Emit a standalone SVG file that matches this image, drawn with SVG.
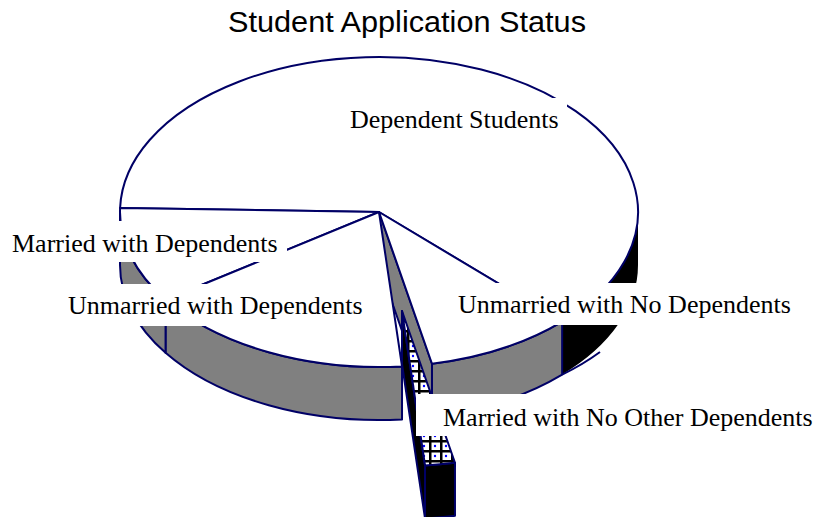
<svg xmlns="http://www.w3.org/2000/svg" width="819" height="517" viewBox="0 0 819 517">
<style>
.edge{stroke:#000066;stroke-width:2;stroke-linejoin:round}
.top{fill:#ffffff}
.gray{fill:#808080}
.blk{fill:#000000}
.lblbox{fill:#ffffff;stroke:none}
.lbl{font-family:"Liberation Serif","Times New Roman",serif;font-size:26px;fill:#000000}
.title{font-family:"Liberation Sans",Arial,sans-serif;font-size:29px;fill:#000000}
</style>
<defs>
<pattern id="chk" width="11" height="10" patternUnits="userSpaceOnUse">
<rect width="11" height="10" fill="#ffffff"/>
<rect x="0" y="0" width="11" height="2.5" fill="#000000"/>
<rect x="0" y="0" width="2.5" height="10" fill="#000000"/>
<circle cx="6" cy="6" r="1.2" fill="#0000ff"/>
</pattern>
</defs>
<rect width="819" height="517" fill="#ffffff"/>
<g id="connectors">
<!-- outer side walls -->
<path class="blk" d="M638,212 A259,155 0 0 1 562.14,321.6 L562.14,374.6 A259,155 0 0 0 638,265 Z"/>
<path class="gray edge" d="M562.14,321.6 A259,155 0 0 1 431.97,363.72 L431.97,416.72 A259,155 0 0 0 562.14,374.6 Z"/>
<path class="gray edge" d="M402.02,366.39 A259,155 0 0 1 165.55,299.79 L165.55,352.79 A259,155 0 0 0 402.02,419.39 Z"/>
<path class="gray edge" d="M165.55,299.79 A259,155 0 0 1 120,212 L120,265 A259,155 0 0 0 165.55,352.79 Z"/>
<path fill="none" class="edge" d="M562.14,374.6 A259,155 0 0 0 600,352"/>
<!-- wall visible in the gap -->
<path class="gray edge" d="M379,212 L431.97,363.72 L431.97,416.72 L379,265 Z"/>
</g>
<g id="node-dependent-students">
<path class="top edge" d="M379,212 L120.09,207.94 A259,155 0 1 1 562.14,321.6 Z"/>
</g>
<g id="node-married-with-dependents">
<path class="top edge" d="M379,212 L165.55,299.79 A259,155 0 0 1 120.09,207.94 Z"/>
</g>
<g id="node-unmarried-with-dependents">
<path class="top edge" d="M379,212 L402.02,366.39 A259,155 0 0 1 165.55,299.79 Z"/>
</g>
<g id="node-unmarried-with-no-dependents">
<path class="top edge" d="M379,212 L562.14,321.6 A259,155 0 0 1 431.97,363.72 Z"/>
</g>
<g id="node-married-with-no-other-dependents">
<path class="blk edge" d="M402,311 L425.02,465.39 L425.02,518.39 L402,364 Z"/>
<path class="blk edge" d="M454.97,462.72 A259,155 0 0 1 425.02,465.39 L425.02,518.39 A259,155 0 0 0 454.97,515.72 Z"/>
<path class="edge" fill="url(#chk)" d="M402,311 L454.97,462.72 A259,155 0 0 1 425.02,465.39 Z"/>
</g>
<g id="labels">
<rect class="lblbox" x="343" y="98" width="224" height="41"/>
<text class="lbl" x="350" y="128">Dependent Students</text>
<rect class="lblbox" x="4" y="221" width="283" height="41"/>
<text class="lbl" x="12" y="252">Married with Dependents</text>
<rect class="lblbox" x="60" y="284" width="310" height="42"/>
<text class="lbl" x="68" y="314">Unmarried with Dependents</text>
<rect class="lblbox" x="450" y="283" width="350" height="42"/>
<text class="lbl" x="458" y="313">Unmarried with No Dependents</text>
<rect class="lblbox" x="416" y="394" width="403" height="42"/>
<text class="lbl" x="443" y="426">Married with No Other Dependents</text>
</g>
<text class="title" x="228" y="32" textLength="358" lengthAdjust="spacingAndGlyphs">Student Application Status</text>
</svg>
